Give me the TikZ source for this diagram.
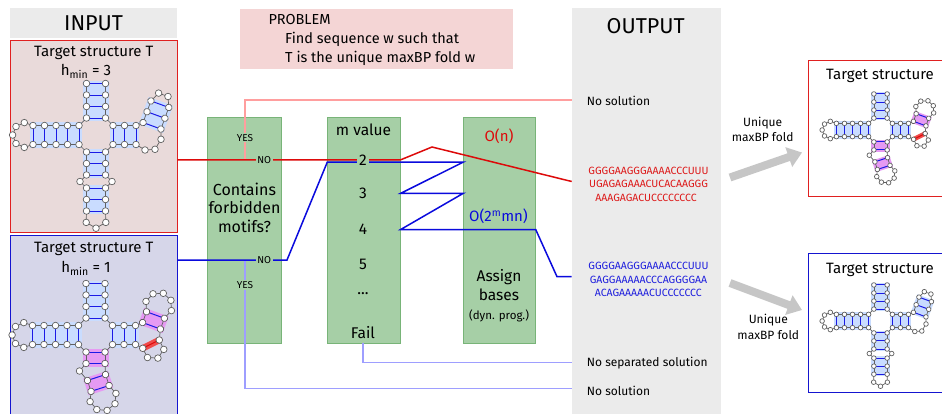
\documentclass[tikz,border=0pt]{standalone}
\usepackage{fontspec}
\setmainfont{Fira Sans}
\usetikzlibrary{arrows.meta}
\pgfdeclarelayer{bg}
\pgfdeclarelayer{lines}
\pgfdeclarelayer{fg}
\pgfsetlayers{bg,lines,main,fg}
\definecolor{panelgray}{HTML}{EBEBEB}
\definecolor{inred}{HTML}{E9DADA}
\definecolor{inblue}{HTML}{D6D6E9}
\definecolor{boxred}{HTML}{E02020}
\definecolor{boxblue}{HTML}{1515D0}
\definecolor{probfill}{HTML}{F4D5D5}
\definecolor{gfill}{HTML}{A6CFA6}
\definecolor{gdraw}{HTML}{78B478}
\definecolor{lred}{HTML}{DD0A0A}
\definecolor{lblue}{HTML}{0A0ADD}
\definecolor{pinkline}{HTML}{FF9E9E}
\definecolor{paleblue}{HTML}{9E9EFF}
\definecolor{helixblue}{HTML}{C9DCFF}
\definecolor{helixpink}{HTML}{E69AF3}
\definecolor{nodegray}{HTML}{606060}
\definecolor{arrowgray}{HTML}{C6C6C6}
\definecolor{bpblue}{HTML}{1A1AE6}
\definecolor{redpair}{HTML}{F04A4A}
\definecolor{seqred}{HTML}{DD1A1A}
\definecolor{seqblue}{HTML}{1F1FDD}

\newcommand\myfs[1]{\fontsize{#1pt}{#1pt}\selectfont}

\tikzset{
 panel/.style={fill=panelgray, anchor=north west, inner sep=0pt, outer sep=0pt},
 inbox/.style={draw=#1, line width=1pt, anchor=north west, inner sep=0pt, outer sep=0pt},
 gbox/.style={fill=gfill, draw=gdraw, line width=0.8pt, anchor=north west, inner sep=0pt, outer sep=0pt},
 glab/.style={fill=gfill, inner xsep=1.5pt, inner ysep=1pt, font=\myfs{10}},
 gnum/.style={fill=gfill, inner xsep=2pt, inner ysep=1pt, font=\myfs{15.5}},
 gtext/.style={anchor=base, inner sep=0pt, font=\myfs{15.5}},
 title/.style={anchor=base, inner sep=0pt, font=\myfs{15}},
 big/.style={inner sep=0pt, font=\myfs{21.5}},
 outtxt/.style={anchor=base west, inner sep=0pt, font=\myfs{12}},
 seq/.style={anchor=base, inner sep=0pt, font=\myfs{10.5}, text=#1},
 small/.style={anchor=base, inner sep=0pt, font=\myfs{12}},
 redline/.style={draw=lred, line width=1.5pt},
 blueline/.style={draw=lblue, line width=1.5pt},
 pinkl/.style={draw=pinkline, line width=1.2pt},
 palel/.style={draw=paleblue, line width=1.2pt},
 bigarrow/.style={draw=arrowgray, line width=8pt, -{Triangle[length=14pt, width=20pt]}},
 backbone/.style={draw=nodegray, line width=0.7pt},
 bpline/.style={draw=bpblue, line width=1pt},
 rnanode/.style={draw=nodegray, fill=white, line width=0.7pt},
}

% helix: name, pairs, shift, rotation, background colour
\newcommand\rnahelix[5]{%
 \begin{scope}[shift={#3}, rotate=#4]
  \begin{pgfonlayer}{bg}
   \fill[#5] (-13,3) rectangle (13,{-(#2-1)*11.5-3});
  \end{pgfonlayer}
  \foreach \k in {1,...,#2} {
    \coordinate (#1L\k) at (-9.5,{-(\k-1)*11.5});
    \coordinate (#1R\k) at (9.5,{-(\k-1)*11.5});
  }
  \draw[backbone] (#1L1) -- (#1L#2) (#1R1) -- (#1R#2);
  \foreach \k in {1,...,#2} {
    \draw[bpline] (#1L\k) -- (#1R\k);
    \begin{pgfonlayer}{fg}
      \path[rnanode] (#1L\k) circle[radius=3.3] (#1R\k) circle[radius=3.3];
    \end{pgfonlayer}
  }
 \end{scope}}

\newcommand\rnapt[2]{%
 \coordinate (#1) at #2;
 \begin{pgfonlayer}{fg}\path[rnanode] (#1) circle[radius=3.3];\end{pgfonlayer}}

\newcommand\leftloop{%
 \rnapt{xa1}{(-71.7,-12.4)}\rnapt{xa2}{(-80,-8.5)}\rnapt{xa3}{(-83.4,0)}%
 \rnapt{xa4}{(-80,8.5)}\rnapt{xa5}{(-71.7,12.4)}}

% structure with h_min = 3
\newcommand\structA{%
 \rnahelix{rT}{4}{(0,-17)}{0}{helixblue}
 \rnahelix{rW}{5}{(-17,0)}{90}{helixblue}
 \rnahelix{rS}{3}{(0,17)}{180}{helixblue}
 \rnahelix{rQ}{3}{(0,53)}{180}{helixblue}
 \rnahelix{rE}{3}{(17,0)}{-90}{helixblue}
 \rnahelix{rK}{3}{(56,-9.2)}{-20}{helixblue}
 \leftloop
 \rnapt{xb1}{(-16,46.5)}\rnapt{xb2}{(16,46.5)}
 \rnapt{xc1}{(-9.8,87.4)}\rnapt{xc2}{(0,93.2)}\rnapt{xc3}{(9.8,87.4)}
 \rnapt{xd1}{(49,15)}\rnapt{xd2}{(59,14.3)}\rnapt{xd3}{(65,4.3)}
 \rnapt{xe1}{(62.6,-41.9)}\rnapt{xe2}{(72,-38.5)}
 \draw[backbone] (rTL1) -- (rWR1)
   (rWR5) -- (xa1) -- (xa2) -- (xa3) -- (xa4) -- (xa5) -- (rWL5)
   (rWL1) -- (rSR1)
   (rSR3) -- (xb1) -- (rQR1)
   (rQR3) -- (xc1) -- (xc2) -- (xc3) -- (rQL3)
   (rQL1) -- (xb2) -- (rSL3)
   (rSL1) -- (rER1)
   (rER3) -- (xd1) -- (xd2) -- (xd3) -- (rKR1)
   (rKR3) -- (xe2) -- (xe1) -- (rKL3)
   (rKL1) -- (rEL3)
   (rEL1) -- (rTR1);
}

% structure with h_min = 1 ; #1 = scale
\newcommand\structB[1]{%
 \rnahelix{rT}{4}{(0,-17)}{0}{helixblue}
 \rnahelix{rW}{5}{(-17,0)}{90}{helixblue}
 \rnahelix{rS}{2}{(0,17)}{180}{helixpink}
 \rnahelix{rQ}{2}{(1,42.5)}{198}{helixpink}
 \rnahelix{rE}{3}{(17,0)}{-90}{helixblue}
 \rnahelix{rK}{2}{(56,-9.2)}{-20}{helixpink}
 \leftloop
 \rnapt{xb1}{(-16,36)}
 \rnapt{xf1}{(-5.4,66.6)}\rnapt{xf2}{(1.3,74.5)}\rnapt{xf3}{(11.6,75.4)}
 \rnapt{xf4}{(19.5,68.7)}\rnapt{xf5}{(20.4,58.4)}
 \rnapt{xp1}{(47.2,13.3)}\rnapt{xp2}{(63.8,5)}
 \rnapt{xg1}{(52,22.5)}\rnapt{xg2}{(62.4,23.1)}\rnapt{xg3}{(68.3,14.4)}
 \rnapt{xh1}{(50.5,-33.6)}\rnapt{xh2}{(57.5,-41.2)}\rnapt{xh3}{(67.8,-41.7)}
 \rnapt{xh4}{(75.4,-34.7)}\rnapt{xh5}{(75.9,-24.4)}
 \begin{pgfonlayer}{bg}
  \draw[draw=redpair, line width=#1*6.5pt, line cap=round] (xp1) -- (xp2);
 \end{pgfonlayer}
 \draw[draw=lred, line width=1pt] (xp1) -- (xp2);
 \draw[backbone] (rTL1) -- (rWR1)
   (rWR5) -- (xa1) -- (xa2) -- (xa3) -- (xa4) -- (xa5) -- (rWL5)
   (rWL1) -- (rSR1)
   (rSR2) -- (xb1) -- (rQR1)
   (rQR2) -- (xf1) -- (xf2) -- (xf3) -- (xf4) -- (xf5) -- (rQL2)
   (rQL1) -- (rSL2)
   (rSL1) -- (rER1)
   (rER3) -- (xp1) -- (xg1) -- (xg2) -- (xg3) -- (xp2) -- (rKR1)
   (rKR2) -- (xh5) -- (xh4) -- (xh3) -- (xh2) -- (xh1) -- (rKL2)
   (rKL1) -- (rEL3)
   (rEL1) -- (rTR1);
}

\begin{document}
\begin{tikzpicture}[x=1pt,y=-1pt]
\useasboundingbox (0,0) rectangle (942,413);

% ---------- panels and boxes ----------
\begin{pgfonlayer}{bg}
 \fill[white] (0,0) rectangle (942,413);
 \node[panel, minimum width=167.3pt, minimum height=30pt] (inhead) at (10,8) {};
 \node[inbox=boxred, fill=inred, minimum width=167.3pt, minimum height=192.7pt] (tgtA) at (10,40) {};
 \node[inbox=boxblue, fill=inblue, minimum width=167.3pt, minimum height=185pt] (tgtB) at (10,235) {};
 \node[panel, fill=probfill, minimum width=273.3pt, minimum height=59.7pt] (prob) at (240,9.3) {};
 \node[gbox, minimum width=74.4pt, minimum height=226pt] (box1) at (207.3,117.3) {};
 \node[gbox, minimum width=73.4pt, minimum height=226pt] (box2) at (327.3,117.3) {};
 \node[gbox, minimum width=72.4pt, minimum height=226pt] (box3) at (463.3,117.3) {};
 \node[panel, minimum width=149pt, minimum height=410pt] (outp) at (571.7,8.3) {};
 \node[inbox=boxred, fill=white, minimum width=145pt, minimum height=136pt] (resA) at (808.3,60) {};
 \node[inbox=boxblue, fill=white, minimum width=145pt, minimum height=139pt] (resB) at (808.3,253.3) {};
\end{pgfonlayer}

% ---------- texts ----------
\node[big] (intxt) at (inhead.center) {INPUT};
\node[title] (tA1) at (93.7,56) {Target structure T};
\node[title] (tA2) at (86,75) {h\textsubscript{min} = 3};
\node[title] (tB1) at (93.7,252.3) {Target structure T};
\node[title] (tB2) at (86,272.5) {h\textsubscript{min} = 1};

\node[anchor=base west, inner sep=0pt, font=\myfs{14.5}] (pr1) at (268.3,24) {PROBLEM};
\node[anchor=base west, inner sep=0pt, font=\myfs{14.5}] (pr2) at (285,43.3) {Find sequence w such that};
\node[anchor=base west, inner sep=0pt, font=\myfs{14.5}] (pr3) at (285,62.3) {T is the unique maxBP fold w};

\node[glab] (yes1) at (245,137.7) {YES};
\node[glab] (no1) at (264.2,160) {NO};
\node[gtext, font=\myfs{16}] (q1) at (244.5,195) {Contains};
\node[gtext, font=\myfs{16}] (q2) at (244.5,213.5) {forbidden};
\node[gtext, font=\myfs{16}] (q3) at (244.5,232.5) {motifs?};
\node[glab] (no2) at (264.2,260) {NO};
\node[glab] (yes2) at (245,285) {YES};

\node[gtext] (mv) at (363.5,135) {m value};
\node[gnum] (m2) at (363,160.6) {2};
\node[gnum] (m3) at (363,193.3) {3};
\node[gnum] (m4) at (363,229) {4};
\node[gnum] (m5) at (363,264) {5};
\node[gnum] (mdots) at (363,294) {...};
\node[gtext] (fail) at (363,338.3) {Fail};

\node[inner sep=0pt, font=\myfs{15}, text=lred] (on) at (499,136.5) {O(n)};
\node[inner sep=0pt, font=\myfs{15}, text=lblue] (o2) at (498.5,216.3) {O(2\textsuperscript{m}mn)};
\node[gtext] (asg) at (499,281.7) {Assign};
\node[gtext] (bas) at (499,300) {bases};
\node[gtext, font=\myfs{11.5}] (dyn) at (499,319.3) {(dyn. prog.)};

\node[big] (outt) at (645.7,25.8) {OUTPUT};
\node[outtxt] (nosolA) at (586.7,105) {No solution};
\node[seq=seqred] (sqA1) at (648.5,174) {GGGGAAGGGAAAACCCUUU};
\node[seq=seqred] (sqA2) at (648.5,187.6) {UGAGAGAAACUCACAAGGG};
\node[seq=seqred] (sqA3) at (646,201.3) {AAAGAGACUCCCCCCCC};
\node[seq=seqblue] (sqB1) at (648.5,269) {GGGGAAGGGAAAACCCUUU};
\node[seq=seqblue] (sqB2) at (648.5,283) {GAGGAAAAACCCAGGGGAA};
\node[seq=seqblue] (sqB3) at (648.3,296.8) {ACAGAAAAACUCCCCCCC};
\node[outtxt] (nosep) at (586.7,366.7) {No separated solution};
\node[outtxt] (nosolB) at (586.7,395) {No solution};

\node[small] (uA1) at (762.7,126.7) {Unique};
\node[small] (uA2) at (762.7,141.7) {maxBP fold};
\node[small] (uB1) at (768.3,323.3) {Unique};
\node[small] (uB2) at (768.3,339.3) {maxBP fold};

\node[title] (rtA) at (880,79.3) {Target structure};
\node[title] (rtB) at (880,273.3) {Target structure};

% ---------- arrows ----------
\coordinate (aA1) at (730,177.5);
\coordinate (aA2) at (802,152.5);
\coordinate (aB1) at (730,283);
\coordinate (aB2) at (802,310);
\draw[bigarrow] (aA1) -- (aA2);
\draw[bigarrow] (aB1) -- (aB2);

% ---------- connectors ----------
\begin{pgfonlayer}{lines}
 \coordinate (jA) at (245,159.8);
 \coordinate (jB) at (245,260);
 \coordinate (pA) at (571.7,100);
 \coordinate (pB) at (571.7,388.5);
 \coordinate (fB) at (571.7,362.3);
 \draw[pinkl] (jA) |- (pA);
 \draw[palel] (jB) |- (pB);
 \draw[palel] (box2.south -| fail) |- (fB);
 \coordinate (bB1) at (287,260);
 \coordinate (bB2) at (327.3,162.1);
 \coordinate (bB3) at (463.3,162.1);
 \coordinate (bB4) at (400.7,193.3);
 \coordinate (bB5) at (463.3,193.3);
 \coordinate (bB6) at (400.7,229.5);
 \coordinate (bB7) at (535.7,229.5);
 \coordinate (bB8) at (557,276.7);
 \coordinate (bB9) at (571.7,276.7);
 \draw[blueline] (tgtB.east |- jB) -- (bB1) -- (bB2) -- (bB3) -- (bB4) -- (bB5)
   -- (bB6) -- (bB7) -- (bB8) -- (bB9);
 \coordinate (rA1) at (400.7,159.8);
 \coordinate (rA2) at (432,147);
 \coordinate (rA3) at (571.7,181.5);
 \draw[redline] (tgtA.east |- jA) -- (rA1) -- (rA2) -- (rA3);
\end{pgfonlayer}

% ---------- RNA structures ----------
\begin{scope}[shift={(96,135)}]
 \structA
\end{scope}
\begin{scope}[shift={(95.5,335)}]
 \structB{1}
\end{scope}
\begin{scope}[shift={(880.5,130)}, scale=0.7]
 \structB{0.7}
\end{scope}
\begin{scope}[shift={(880.5,321)}, scale=0.7]
 \structA
\end{scope}
\end{tikzpicture}
\end{document}
